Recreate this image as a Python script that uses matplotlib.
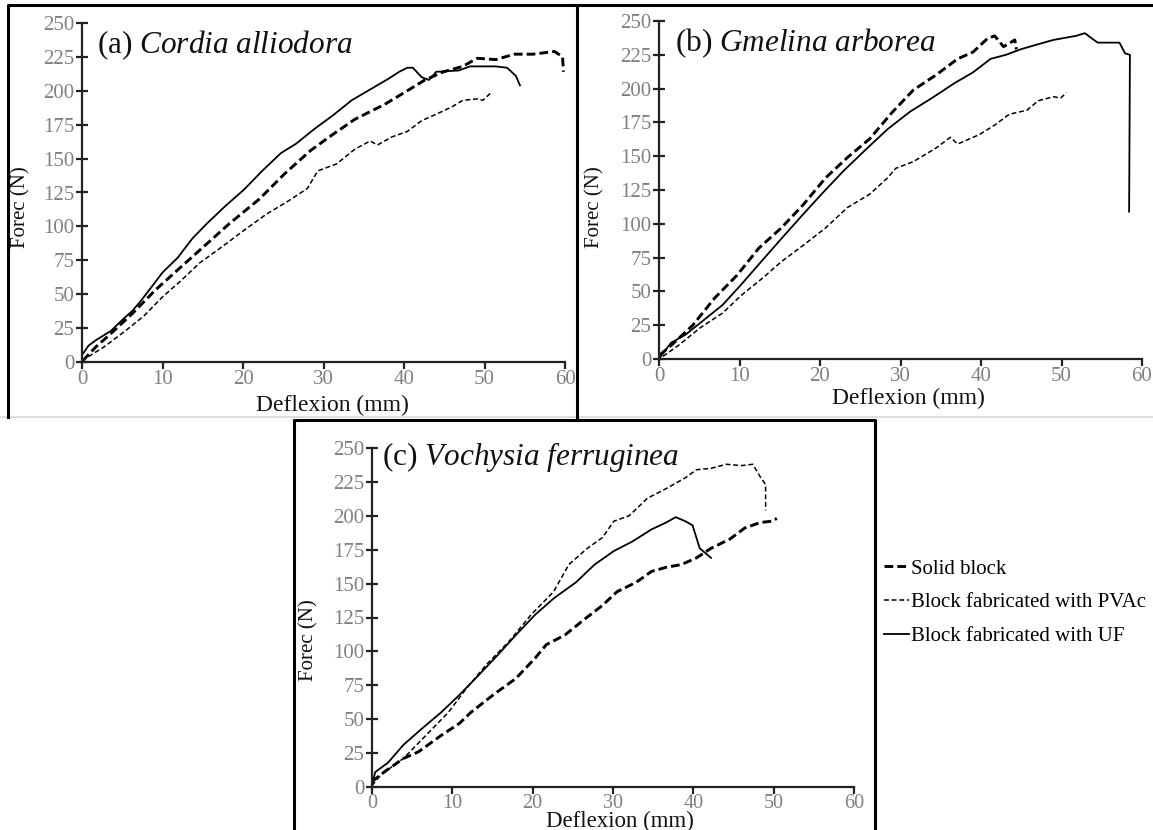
import numpy
import matplotlib
matplotlib.use("Agg")
import matplotlib.pyplot as plt
from matplotlib.lines import Line2D

plt.rcParams['font.family'] = ['Liberation Serif', 'DejaVu Serif']
plt.rcParams['mathtext.fontset'] = 'custom'
plt.rcParams['mathtext.rm'] = 'Liberation Serif'
plt.rcParams['mathtext.it'] = 'Liberation Serif:italic'

# ---- data: (deflexion mm, force N) ----
# (a) Cordia alliodora
a_uf_x = [0.1, 0.8, 1.7, 3.6, 5.0, 6.3, 7.3, 8.6, 10.0, 11.9, 13.7, 15.5, 17.8, 20.1, 22.4, 24.7, 26.6, 28.9,
          31.2, 33.5, 35.8, 38.1, 39.4, 40.4, 41.1, 42.2, 43.1, 44.0, 46.8, 48.2, 51.4, 52.8, 53.9, 54.4]
a_uf_y = [6, 12, 16, 23, 31, 38, 45, 55, 66, 77, 91, 102, 115, 127, 141, 154, 161, 172,
          182, 193, 201, 209, 214, 217, 217, 210, 208, 214, 215, 218, 218, 217, 211, 204]
a_solid_x = [0.1, 1.7, 3.6, 6.3, 9.1, 11.9, 15.1, 18.3, 22.0, 25.2, 28.4, 31.2, 33.9, 37.6, 40.4, 42.6,
             44.9, 47.3, 49.1, 51.4, 53.7, 56.0, 58.7, 59.7, 59.8]
a_solid_y = [1, 11, 21, 36, 53, 68, 85, 102, 120, 139, 156, 168, 179, 190, 200, 208,
             214, 218, 224, 223, 227, 227, 229, 225, 214]
a_pvac_x = [0.8, 2.7, 5.4, 7.7, 10.0, 12.3, 14.6, 17.4, 20.1, 22.9, 25.7, 28.0, 29.3, 31.6, 33.9, 35.8,
            36.7, 38.5, 40.4, 42.2, 44.1, 45.9, 47.3, 49.1, 49.8, 50.7]
a_pvac_y = [4, 11, 23, 34, 48, 60, 73, 85, 97, 109, 119, 128, 141, 146, 157, 163,
            160, 166, 170, 178, 183, 188, 193, 194, 193, 198]

# (b) Gmelina arborea
b_uf_x = [0.0, 1.5, 3.3, 5.6, 7.9, 10.2, 12.4, 15.2, 17.9, 20.2, 22.9, 25.7, 28.4, 31.2, 33.9, 36.7, 39.0,
          41.2, 43.1, 44.9, 47.2, 49.0, 51.8, 52.9, 53.8, 54.5, 57.2, 57.9, 58.5, 58.4]
b_uf_y = [0, 12, 18, 29, 40, 55, 70, 89, 107, 122, 139, 155, 170, 183, 193, 204, 212,
          222, 225, 229, 233, 236, 239, 241, 237, 234, 234, 226, 225, 109]
b_solid_x = [0.1, 1.5, 4.2, 6.9, 9.7, 12.4, 15.2, 17.9, 20.7, 23.4, 26.2, 28.9, 31.6, 34.4, 37.1, 39.0,
             40.8, 41.7, 42.8, 44.2, 44.4]
b_solid_y = [3, 10, 25, 45, 62, 82, 97, 114, 134, 149, 163, 182, 199, 210, 222, 227,
             237, 239, 231, 236, 229]
b_pvac_x = [0.5, 2.4, 5.1, 7.9, 10.2, 12.9, 15.2, 17.9, 20.7, 23.4, 26.2, 28.4, 29.4, 31.6, 34.4, 36.2,
            37.1, 39.8, 41.7, 43.5, 45.7, 47.1, 49.0, 49.9, 50.6]
b_pvac_y = [2, 10, 23, 34, 47, 60, 72, 84, 97, 112, 122, 134, 141, 146, 156, 164,
            159, 166, 173, 181, 184, 191, 194, 193, 197]

# (c) Vochysia ferruginea
c_uf_x = [0.0, 0.4, 2.0, 3.9, 6.2, 8.6, 10.9, 13.2, 15.6, 17.9, 20.3, 22.6, 25.4, 27.7, 30.1, 32.4, 34.8,
          36.6, 37.8, 39.0, 39.9, 40.8, 41.8, 42.2]
c_uf_y = [1, 11, 18, 31, 43, 55, 68, 82, 97, 112, 127, 139, 151, 164, 174, 181, 190,
          195, 199, 196, 193, 176, 171, 169]
c_solid_x = [0.0, 1.5, 3.9, 5.8, 8.6, 10.9, 12.3, 15.1, 17.9, 20.3, 21.7, 24.0, 26.3, 28.7, 30.5, 32.9,
             34.8, 36.6, 38.5, 40.4, 42.2, 44.6, 46.4, 48.3, 49.7, 50.4]
c_solid_y = [4, 11, 21, 26, 38, 47, 55, 68, 80, 95, 105, 112, 123, 134, 144, 151,
             159, 162, 164, 169, 176, 183, 191, 195, 196, 198]
c_pvac_x = [0.0, 1.1, 3.9, 6.7, 9.5, 11.8, 14.2, 17.0, 19.8, 22.6, 24.5, 26.8, 28.7, 30.1, 32.0, 34.3,
            36.6, 39.0, 40.4, 42.2, 44.1, 46.0, 47.4, 48.3, 49.0, 49.0]
c_pvac_y = [1, 9, 21, 38, 55, 73, 90, 107, 127, 144, 164, 176, 184, 196, 200, 213,
            220, 228, 234, 235, 238, 237, 238, 229, 223, 204]

panel_titles = ["(a) $\\mathit{Cordia\\ alliodora}$",
                "(b) $\\mathit{Gmelina\\ arborea}$",
                "(c) $\\mathit{Vochysia\\ ferruginea}$"]
legend_labels = ["Solid block", "Block fabricated with PVAc", "Block fabricated with UF"]
x_ticks = [0, 10, 20, 30, 40, 50, 60]
y_ticks = [0, 25, 50, 75, 100, 125, 150, 175, 200, 225, 250]

W, H = 1153, 830
fig = plt.figure(figsize=(W / 100, H / 100), dpi=100)


def px_axes(x0, x60, y0, y250):
    return fig.add_axes([x0 / W, 1 - y0 / H, (x60 - x0) / W, (y0 - y250) / H])


styles = {
    'solid': dict(color='black', lw=2.1, dashes=(3.0, 1.4)),
    'pvac': dict(color='black', lw=1.1, dashes=(3.2, 1.8)),
    'uf': dict(color='black', lw=1.3),
}

panels = [
    (px_axes(82, 565, 362, 23), (a_solid_x, a_solid_y), (a_pvac_x, a_pvac_y), (a_uf_x, a_uf_y),
     (0.031, 0.935), (-0.106, 0.457), (0.518, -0.097), 15, 17),
    (px_axes(659, 1142, 359, 21), (b_solid_x, b_solid_y), (b_pvac_x, b_pvac_y), (b_uf_x, b_uf_y),
     (0.033, 0.935), (-0.112, 0.45), (0.516, -0.086), 15, 17),
    (px_axes(372, 854, 787, 448), (c_solid_x, c_solid_y), (c_pvac_x, c_pvac_y), (c_uf_x, c_uf_y),
     (0.021, 0.973), (-0.112, 0.434), (0.515, -0.071), 14.5, 16.5),
]

for i, (ax, solid, pvac, uf, tpos, ylpos, xlpos, tsize, xlsize) in enumerate(panels):
    ax.plot(solid[0], solid[1], **styles['solid'])
    ax.plot(pvac[0], pvac[1], **styles['pvac'])
    ax.plot(uf[0], uf[1], **styles['uf'])
    ax.set_xlim(0, 60)
    ax.set_ylim(0, 250)
    ax.set_xticks(x_ticks)
    ax.set_yticks(y_ticks)
    for s in ['top', 'right']:
        ax.spines[s].set_visible(False)
    for s in ['left', 'bottom']:
        ax.spines[s].set_color('#222222')
        ax.spines[s].set_linewidth(1.6)
    ax.tick_params(axis='y', direction='inout', length=9, width=1.6, color='#222222',
                   labelcolor='#808080', labelsize=15, pad=1)
    ax.tick_params(axis='x', direction='out', length=5, width=1.6, color='#222222',
                   labelcolor='#808080', labelsize=tsize, pad=1 if i < 2 else 0)
    ax.set_ylabel("Forec (N)", fontsize=15, color='#111111')
    ax.yaxis.set_label_coords(*ylpos)
    ax.set_xlabel("Deflexion (mm)", fontsize=xlsize, color='#111111')
    ax.xaxis.set_label_coords(*xlpos)
    ax.text(tpos[0], tpos[1], panel_titles[i], transform=ax.transAxes, fontsize=22.5,
            ha='left', va='center', color='#111111')
    ax.patch.set_alpha(0)


# panel frames (pixel coordinates of the page)
def frame_line(xs, ys, **kw):
    fig.add_artist(Line2D([x / W for x in xs], [1 - y / H for y in ys], transform=fig.transFigure, **kw))


frame_line([0, W], [417, 417], color='#d8d8d8', lw=1.2)
frame_line([8, 8, 577, 577], [417, 5, 5, 420], color='black', lw=2.2)
frame_line([577, W], [5, 5], color='black', lw=2.2)
frame_line([294, 294, 875, 875], [H, 420, 420, H], color='black', lw=2.2)

handles = [Line2D([], [], **styles['solid']), Line2D([], [], **styles['pvac']), Line2D([], [], **styles['uf'])]
fig.legend(handles, legend_labels, loc='upper left', bbox_to_anchor=(884 / W, 1 - 559 / H),
           frameon=False, fontsize=15, handlelength=1.2, handletextpad=0.1, labelspacing=0.68,
           borderaxespad=0, borderpad=0)

fig.savefig("out.png", dpi=100)
